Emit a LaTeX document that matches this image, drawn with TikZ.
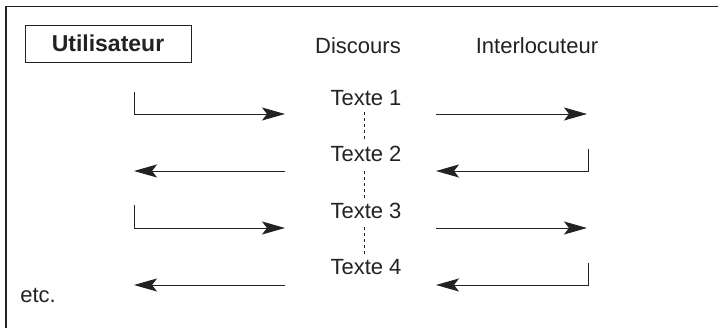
\documentclass[tikz,border=0pt]{standalone}
\usepackage{fontspec}
\setmainfont{Liberation Sans}
\usepackage{tikz}
\usetikzlibrary{arrows.meta}

\definecolor{ink}{HTML}{222222}
\tikzset{
  label/.style={inner sep=2pt, text=ink, font=\fontsize{22}{25}\selectfont},
  flow/.style={line width=0.9pt, draw=ink, -{Stealth[length=23pt,width=13pt,inset=5pt]}},
}

\begin{document}
\begin{tikzpicture}[x=1pt,y=-1pt]
\useasboundingbox (0,0) rectangle (718,328);
\draw[line width=1.6pt, ink] (6,328) -- (6,6.5) -- (718,6.5);
%
\node[draw=ink, text=ink, line width=0.9pt, minimum width=166pt, minimum height=37pt, inner sep=0pt,
      font=\bfseries\fontsize{23}{26}\selectfont] (user) at (108,43.5) {Utilisateur};
\node[label] (disc) at (358,46) {Discours};
\node[label] (inter) at (537,46) {Interlocuteur};
%
\node[label] (t1) at (366,98) {Texte 1};
\node[label] (t2) at (366,154) {Texte 2};
\node[label] (t3) at (366,211) {Texte 3};
\node[label] (t4) at (366,267) {Texte 4};
\node[label] (etc) at (38,295) {etc.};
%
\draw[dashed, line width=0.8pt, ink] (364,112) -- (364,140);
\draw[dashed, line width=0.8pt, ink] (364,171) -- (364,198);
\draw[dashed, line width=0.8pt, ink] (364,227) -- (364,255);
%
\coordinate (a1) at (134,92);  \coordinate (b1) at (285,114);
\coordinate (c1) at (436,114); \coordinate (d1) at (587,114);
\coordinate (a2) at (588,149); \coordinate (b2) at (436,171);
\coordinate (c2) at (285,171); \coordinate (d2) at (134,171);
\coordinate (a3) at (134,205); \coordinate (b3) at (285,228);
\coordinate (c3) at (436,228); \coordinate (d3) at (587,228);
\coordinate (a4) at (588,263); \coordinate (b4) at (436,285);
\coordinate (c4) at (285,285); \coordinate (d4) at (134,285);
%
\draw[flow] (a1) |- (b1);
\draw[flow] (c1) -- (d1);
\draw[flow] (a2) |- (b2);
\draw[flow] (c2) -- (d2);
\draw[flow] (a3) |- (b3);
\draw[flow] (c3) -- (d3);
\draw[flow] (a4) |- (b4);
\draw[flow] (c4) -- (d4);
\end{tikzpicture}
\end{document}
